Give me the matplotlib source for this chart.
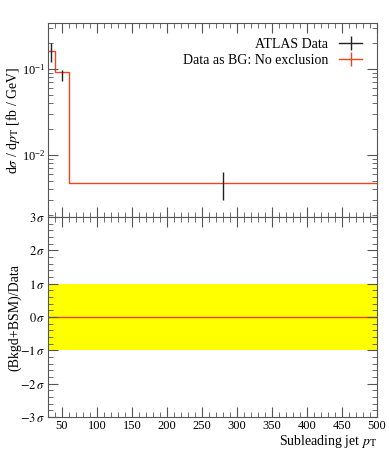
import numpy as np
import matplotlib
matplotlib.use('Agg')
import matplotlib.pyplot as plt
from matplotlib.ticker import MultipleLocator, FixedLocator
from matplotlib.lines import Line2D

plt.rcParams['font.family'] = ['Liberation Serif', 'DejaVu Serif']
plt.rcParams['mathtext.fontset'] = 'stix'

# bins and values
edges = [30, 40, 60, 500]
bg_vals = [0.162, 0.092, 0.0047]
data_x = [35, 50, 280]
data_y = [0.16, 0.092, 0.0047]
data_err_lo = [0.04, 0.02, 0.0017]
data_err_hi = [0.04, 0.006, 0.0016]
ratio_vals = [0.0, 0.0, 0.0]
sigma_ticks = [-3, -2, -1, 0, 1, 2, 3]

red = '#ee4422'
grey = '#555555'

fig = plt.figure(figsize=(3.89, 4.5), dpi=100)
ax1 = fig.add_axes([0.123, 0.518, 0.846, 0.431])
ax2 = fig.add_axes([0.123, 0.073, 0.846, 0.445], sharex=ax1)

ax1.stairs(bg_vals, edges, baseline=None, color=red, lw=1.0)
ax1.errorbar(data_x, data_y, yerr=[data_err_lo, data_err_hi], fmt='none',
             ecolor='#222222', elinewidth=1.0)
ax1.set_yscale('log')
ax1.set_ylim(0.0019, 0.343)
ax1.set_xlim(30, 500)
ax1.set_ylabel(r'd$\sigma$ / d$p_\mathrm{T}$ [fb / GeV]', fontsize=10)
ax1.yaxis.set_label_coords(-0.08, 0.5)

h_data = Line2D([], [], color='#222222', marker='|', markersize=10, lw=1.0)
h_bg = Line2D([], [], color=red, marker='|', markersize=10, lw=1.0)
ax1.legend([h_data, h_bg], ['ATLAS Data', 'Data as BG: No exclusion'],
           loc='upper right', frameon=False, markerfirst=False, fontsize=10,
           handlelength=1.6, borderaxespad=0.7, labelspacing=0.2)
plt.setp(ax1.get_xticklabels(), visible=False)

ax2.axhspan(-1, 1, color='#ffff00', lw=0)
ax2.stairs(ratio_vals, edges, baseline=None, color=red, lw=1.0)
ax2.set_ylim(-3, 3)
ax2.yaxis.set_major_locator(FixedLocator(sigma_ticks))
ax2.set_yticklabels([r'$%d\,\sigma$' % t if t >= 0 else r'$-%d\,\sigma$' % -t
                     for t in sigma_ticks])
ax2.yaxis.set_minor_locator(MultipleLocator(0.2))
ax2.set_ylabel('(Bkgd+BSM)/Data', fontsize=10)
ax2.yaxis.set_label_coords(-0.08, 0.5)
ax2.set_xlabel(r'Subleading jet $p_\mathrm{T}$', fontsize=10, loc='right', labelpad=1)

for ax in (ax1, ax2):
    ax.xaxis.set_major_locator(MultipleLocator(50))
    ax.xaxis.set_minor_locator(MultipleLocator(10))
    ax.tick_params(which='both', direction='in', top=True, right=True,
                   color=grey, labelsize=9, pad=2)
    ax.tick_params(which='major', length=7)
    ax.tick_params(which='minor', length=3.5)
    for s in ax.spines.values():
        s.set_color(grey)
        s.set_linewidth(0.8)

fig.savefig('out.png', dpi=100)
